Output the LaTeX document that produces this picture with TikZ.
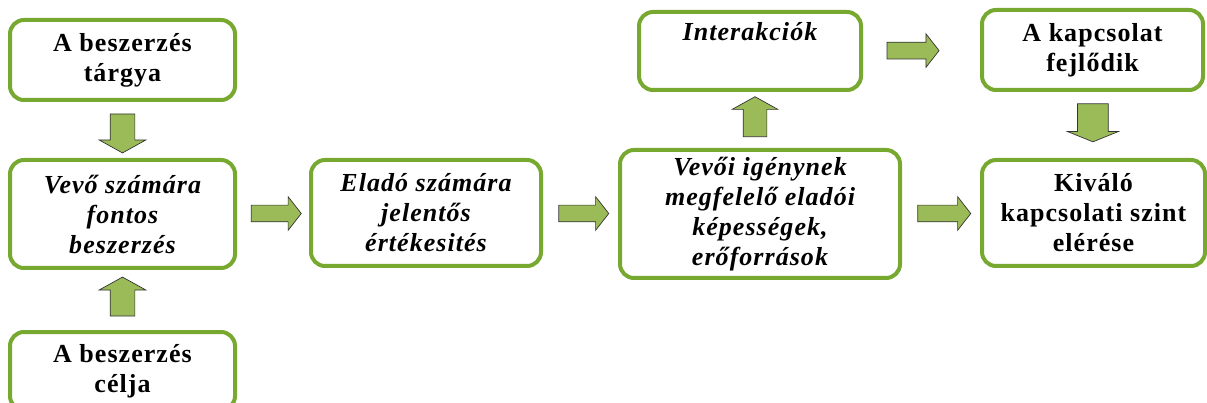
\documentclass[tikz,border=0pt]{standalone}
\usepackage{fontspec}
\setmainfont{Liberation Serif}[LetterSpace=4]
\usetikzlibrary{calc, shapes.arrows}

\definecolor{boxgreen}{RGB}{119,168,48}
\definecolor{arrowgreen}{RGB}{155,187,89}

\tikzstyle{every picture} = [x=1pt, y=-1pt]
\tikzstyle{box} = [draw=boxgreen, line width=4pt, rounded corners=14pt, fill=white, align=center, inner sep=2pt, font=\bfseries\fontsize{26}{30}\selectfont]
\tikzstyle{italic box} = [box, font=\bfseries\itshape\fontsize{26}{30}\selectfont]
\tikzstyle{fat arrow} = [single arrow, draw=black!80, fill=arrowgreen, line width=0.7pt, inner xsep=0pt, inner ysep=8pt, single arrow head extend=8.5pt, single arrow tip angle=104, minimum height=50pt]
\tikzstyle{fat vertical arrow} = [fat arrow, inner ysep=12pt, single arrow head extend=11pt, single arrow tip angle=122, minimum height=39pt]

\begin{document}
\begin{tikzpicture}
    \useasboundingbox (0,0) rectangle (1207,403);
    \clip (0,0) rectangle (1207,403);

    % left column
    \node (box 1) at (122.5, 60) [box, minimum width=225pt, minimum height=80pt] {A beszerzés\\tárgya};
    \node (box 2) at (122.5, 214) [italic box, minimum width=225pt, minimum height=108pt] {Vevő számára\\fontos\\beszerzés};
    \node (box 3) at (122.5, 371) [box, minimum width=225pt, minimum height=78pt] {A beszerzés\\célja};

    % middle
    \node (box 4) at (426, 213) [italic box, minimum width=230pt, minimum height=106pt] {Eladó számára\\jelentős\\értékesités};
    \node (box 5) at (760, 214) [italic box, minimum width=280pt, minimum height=128pt] {Vevői igénynek\\megfelelő eladói\\képességek,\\erőforrások};
    \node (box 6) at (750, 51) [italic box, minimum width=222pt, minimum height=78pt] {Interakciók\\\strut};

    % right column
    \node (box 7) at (1092.5, 50) [box, minimum width=221pt, minimum height=80pt] {A kapcsolat\\fejlődik};
    \node (box 8) at (1093.5, 213) [box, minimum width=223pt, minimum height=106pt] {Kiváló\\kapcsolati szint\\elérése};

    % block arrows
    \node (arrow 1) at ($(box 1.south)!0.5!(box 2.north)$) [fat vertical arrow, rotate=-90] {};
    \node (arrow 2) at ($(box 3.north)!0.5!(box 2.south)$) [fat vertical arrow, rotate=90] {};
    \node (arrow 3) at ($(box 2.east)!0.5!(box 4.west)$) [fat arrow] {};
    \node (arrow 4) at ($(box 4.east)!0.5!(box 5.west)$) [fat arrow] {};
    \node (arrow 5) at ($(box 5.north)!0.5!(box 6.south)$) [fat vertical arrow, rotate=90, inner ysep=11.5pt, minimum height=40pt] {};
    \node (arrow 6) at ($(box 6.east)!0.4!(box 7.west)$) [fat arrow, minimum height=52pt] {};
    \node (arrow 7) at ($(box 7.south)!0.42!(box 8.north)$) [fat vertical arrow, rotate=-90, inner ysep=15pt, single arrow head extend=10pt, single arrow tip angle=136, minimum height=38pt] {};
    \node (arrow 8) at ($(box 5.east)!0.5!(box 8.west)$) [fat arrow, minimum height=53pt] {};
\end{tikzpicture}
\end{document}
